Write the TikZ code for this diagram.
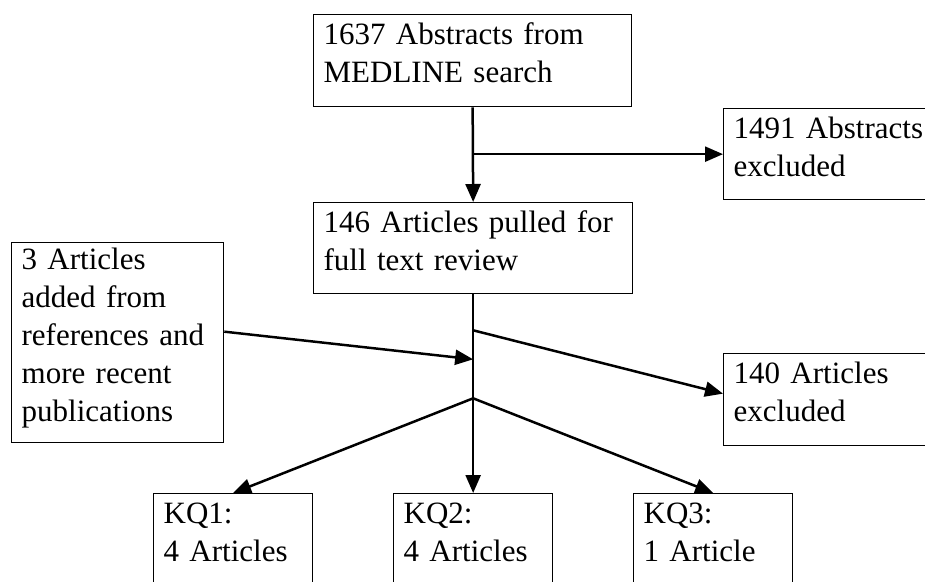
\documentclass[tikz,border=0pt]{standalone}
\usepackage{fontspec}
\setmainfont{Liberation Serif}
\usepackage{tikz}
\usetikzlibrary{arrows.meta,calc}

\begin{document}
\begin{tikzpicture}[x=1pt,y=-1pt,
    stage/.style={draw, line width=1.3pt, anchor=north west, align=left,
      inner xsep=10pt, inner ysep=0pt, text height=30pt,
      font=\fontsize{31}{38}\selectfont},
    flow/.style={line width=2.5pt, -{Triangle[length=18pt,width=15pt]}}]
             \clip (0,0) rectangle (925,581);

             \node[stage, text width=298pt, text depth=62pt] (medline) at (313,14) {1637 Abstracts from\\MEDLINE search};
             \node[stage, text width=200pt, text depth=61pt] (absexcl) at (723,108) {1491 Abstracts\\excluded};
             \node[stage, text width=299pt, text depth=61pt] (fulltext) at (313,202) {146 Articles pulled for\\full text review};
             \node[stage, text width=192pt, text height=27pt, text depth=173pt] (added) at (11,242) {3 Articles\\added from\\references and\\more recent\\publications};
             \node[stage, text width=200pt, text depth=62pt] (artexcl) at (723,353) {140 Articles\\excluded};

             \node[stage, text width=139pt, text depth=80pt] (kqone) at (153,493) {KQ1:\\4 Articles};
             \node[stage, text width=139pt, text depth=80pt] (kqtwo) at (393,493) {KQ2:\\4 Articles};
             \node[stage, text width=139pt, text depth=80pt] (kqthree) at (633,493) {KQ3:\\1 Article};

             \coordinate (split) at (medline.south |- absexcl.west);
             \coordinate (out) at ($(fulltext.south)+(0,36)$);
             \coordinate (join) at ($(fulltext.south)+(0,65)$);
             \coordinate (fork) at ($(fulltext.south)+(0,104)$);

             \draw[flow] (medline.south) -- (fulltext.north);
             \draw[flow] (split) -- (absexcl.west);
             \draw[flow] (fulltext.south) -- (fulltext.south |- kqtwo.north);
             \draw[flow] (out) -- ([yshift=6pt]artexcl.west);
             \draw[flow] ([yshift=11pt]added.east) -- (join);
             \draw[flow] (fork) -- (kqone.north);
             \draw[flow] (fork) -- (kqthree.north);
\end{tikzpicture}
\end{document}
